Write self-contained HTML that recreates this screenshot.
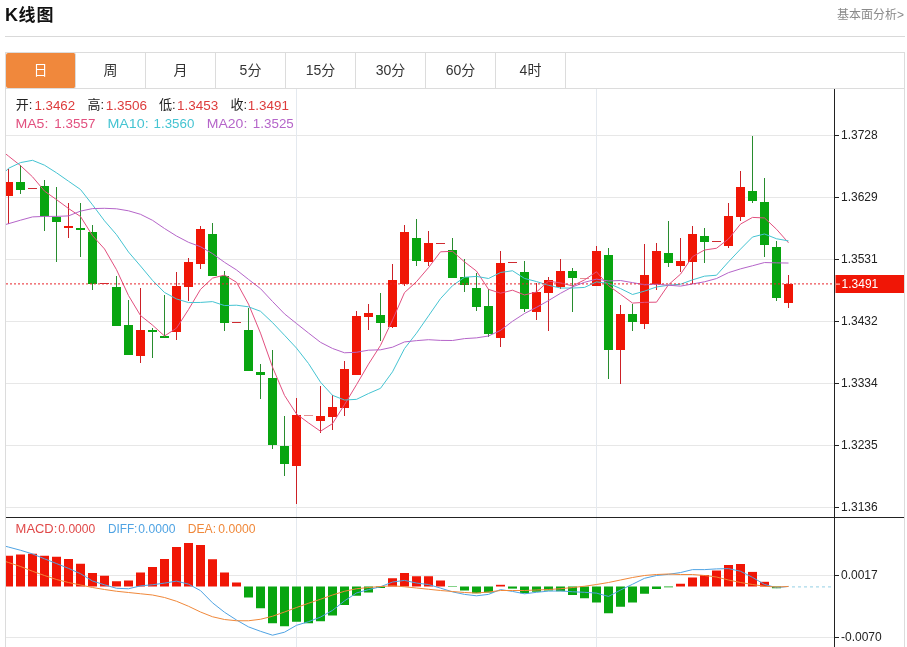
<!DOCTYPE html>
<html lang="zh-CN"><head><meta charset="utf-8"><title>K线图</title>
<style>
html,body{margin:0;padding:0;background:#fff}
body{width:907px;height:647px;position:relative;overflow:hidden;font-family:"Liberation Sans","Noto Sans CJK SC",sans-serif;color:#222}
.title span{font-size:17px;letter-spacing:1px;margin-left:0.5px}
.title{position:absolute;left:5px;top:2px;font-size:18px;font-weight:bold;line-height:26px;color:#111}
.more{position:absolute;right:3px;top:6px;font-size:12px;line-height:18px;color:#8a8a8a}
.hr{position:absolute;left:5px;top:36px;width:900px;height:1px;background:#d9d9d9}
.box{position:absolute;left:5px;top:52px;width:898px;height:600px;border:1px solid #dcdcdc;border-bottom:none}
.tabs{position:absolute;left:6px;top:53px;width:898px;height:35px;border-bottom:1px solid #dcdcdc}
.tab{float:left;width:69px;height:35px;border-right:1px solid #dcdcdc;text-align:center;font-size:14px;line-height:35px;color:#333}
.tab.on{background:#f0883c;color:#fff;border-radius:2px}
</style></head><body>
<div class="title">K<span>线图</span></div>
<div class="more">基本面分析&gt;</div>
<div class="hr"></div>
<div class="box"></div>
<div class="tabs"><div class="tab on">日</div><div class="tab">周</div><div class="tab">月</div><div class="tab">5分</div><div class="tab">15分</div><div class="tab">30分</div><div class="tab">60分</div><div class="tab">4时</div></div>
<svg width="907" height="647" viewBox="0 0 907 647" style="position:absolute;left:0;top:0" font-family="'Liberation Sans', 'Noto Sans CJK SC', sans-serif">
<defs><clipPath id="cm"><rect x="6" y="89" width="829" height="428"/></clipPath><clipPath id="cd"><rect x="6" y="518" width="829" height="129"/></clipPath></defs>
<g stroke="#e7e7e7" stroke-width="1" shape-rendering="crispEdges">
<line x1="6" x2="835" y1="135.5" y2="135.5"/>
<line x1="6" x2="835" y1="197.5" y2="197.5"/>
<line x1="6" x2="835" y1="259.5" y2="259.5"/>
<line x1="6" x2="835" y1="321.5" y2="321.5"/>
<line x1="6" x2="835" y1="383.5" y2="383.5"/>
<line x1="6" x2="835" y1="445.5" y2="445.5"/>
<line x1="6" x2="835" y1="507.5" y2="507.5"/>
<line x1="6" x2="835" y1="575.5" y2="575.5"/>
<line x1="6" x2="835" y1="637.5" y2="637.5"/>
</g>
<g stroke="#e4e9ef" stroke-width="1" shape-rendering="crispEdges">
<line x1="296.5" x2="296.5" y1="89" y2="647"/>
<line x1="596.5" x2="596.5" y1="89" y2="647"/>
</g>
<g clip-path="url(#cm)" shape-rendering="crispEdges">
<rect x="8" y="168.5" width="1" height="55.8" fill="#cc2026"/>
<rect x="4" y="181.5" width="9" height="14.5" fill="#f01606"/>
<rect x="20" y="165" width="1" height="28.8" fill="#288c2e"/>
<rect x="16" y="182" width="9" height="8" fill="#08a510"/>
<rect x="28" y="188" width="9" height="1" fill="#cc2026" opacity="0.95"/>
<rect x="44" y="180" width="1" height="50.75" fill="#288c2e"/>
<rect x="40" y="186" width="9" height="30.4" fill="#08a510"/>
<rect x="56" y="186.75" width="1" height="75" fill="#288c2e"/>
<rect x="52" y="216.75" width="9" height="5" fill="#08a510"/>
<rect x="68" y="203" width="1" height="34.5" fill="#cc2026"/>
<rect x="64" y="225.75" width="9" height="2.25" fill="#f01606"/>
<rect x="80" y="203.25" width="1" height="54" fill="#288c2e"/>
<rect x="76" y="228.25" width="9" height="2" fill="#08a510"/>
<rect x="92" y="225" width="1" height="65" fill="#288c2e"/>
<rect x="88" y="232" width="9" height="52" fill="#08a510"/>
<rect x="100" y="283" width="9" height="1" fill="#cc2026" opacity="0.95"/>
<rect x="116" y="276.25" width="1" height="49.25" fill="#288c2e"/>
<rect x="112" y="286.75" width="9" height="38.75" fill="#08a510"/>
<rect x="128" y="300" width="1" height="55" fill="#288c2e"/>
<rect x="124" y="325" width="9" height="30" fill="#08a510"/>
<rect x="140" y="288" width="1" height="75" fill="#cc2026"/>
<rect x="136" y="330" width="9" height="25.5" fill="#f01606"/>
<rect x="152" y="327.5" width="1" height="30" fill="#288c2e"/>
<rect x="148" y="329.5" width="9" height="2.5" fill="#08a510"/>
<rect x="164" y="294.5" width="1" height="43" fill="#288c2e"/>
<rect x="160" y="336" width="9" height="1.5" fill="#08a510"/>
<rect x="176" y="272" width="1" height="67.5" fill="#cc2026"/>
<rect x="172" y="286.25" width="9" height="45.5" fill="#f01606"/>
<rect x="188" y="257.5" width="1" height="43.5" fill="#cc2026"/>
<rect x="184" y="262" width="9" height="25" fill="#f01606"/>
<rect x="200" y="225.75" width="1" height="42.75" fill="#cc2026"/>
<rect x="196" y="229.25" width="9" height="34.25" fill="#f01606"/>
<rect x="212" y="223" width="1" height="52.5" fill="#288c2e"/>
<rect x="208" y="233.75" width="9" height="41.75" fill="#08a510"/>
<rect x="224" y="271" width="1" height="60" fill="#288c2e"/>
<rect x="220" y="276.25" width="9" height="46.25" fill="#08a510"/>
<rect x="232" y="322" width="9" height="1" fill="#cc2026" opacity="0.95"/>
<rect x="248" y="307.5" width="1" height="63.75" fill="#288c2e"/>
<rect x="244" y="330" width="9" height="41.25" fill="#08a510"/>
<rect x="260" y="364.25" width="1" height="34.5" fill="#288c2e"/>
<rect x="256" y="372" width="9" height="2.5" fill="#08a510"/>
<rect x="272" y="350" width="1" height="99.25" fill="#288c2e"/>
<rect x="268" y="378" width="9" height="67" fill="#08a510"/>
<rect x="284" y="416.25" width="1" height="59.25" fill="#288c2e"/>
<rect x="280" y="445.75" width="9" height="18.5" fill="#08a510"/>
<rect x="296" y="397.5" width="1" height="106.25" fill="#cc2026"/>
<rect x="292" y="415" width="9" height="50.75" fill="#f01606"/>
<rect x="304" y="415" width="9" height="1" fill="#cc2026" opacity="0.5"/>
<rect x="320" y="385.5" width="1" height="47.5" fill="#cc2026"/>
<rect x="316" y="416.25" width="9" height="4.25" fill="#f01606"/>
<rect x="332" y="394.5" width="1" height="35" fill="#cc2026"/>
<rect x="328" y="406.75" width="9" height="10" fill="#f01606"/>
<rect x="344" y="361.25" width="1" height="54.5" fill="#cc2026"/>
<rect x="340" y="369.25" width="9" height="39" fill="#f01606"/>
<rect x="356" y="311.25" width="1" height="63.25" fill="#cc2026"/>
<rect x="352" y="315.5" width="9" height="59" fill="#f01606"/>
<rect x="368" y="303.75" width="1" height="25.75" fill="#cc2026"/>
<rect x="364" y="313" width="9" height="3.5" fill="#f01606"/>
<rect x="380" y="293" width="1" height="48.25" fill="#288c2e"/>
<rect x="376" y="315.25" width="9" height="7.25" fill="#08a510"/>
<rect x="392" y="263.75" width="1" height="64.25" fill="#cc2026"/>
<rect x="388" y="280" width="9" height="47" fill="#f01606"/>
<rect x="404" y="225" width="1" height="61" fill="#cc2026"/>
<rect x="400" y="232" width="9" height="51.75" fill="#f01606"/>
<rect x="416" y="218.75" width="1" height="46.75" fill="#288c2e"/>
<rect x="412" y="237.5" width="9" height="23.25" fill="#08a510"/>
<rect x="428" y="231" width="1" height="35" fill="#cc2026"/>
<rect x="424" y="243" width="9" height="18.5" fill="#f01606"/>
<rect x="436" y="243" width="9" height="1" fill="#cc2026" opacity="0.95"/>
<rect x="452" y="237.5" width="1" height="40" fill="#288c2e"/>
<rect x="448" y="250" width="9" height="27.5" fill="#08a510"/>
<rect x="464" y="258.75" width="1" height="33.25" fill="#288c2e"/>
<rect x="460" y="277" width="9" height="8" fill="#08a510"/>
<rect x="476" y="272.5" width="1" height="38.75" fill="#288c2e"/>
<rect x="472" y="288" width="9" height="18.75" fill="#08a510"/>
<rect x="488" y="289.25" width="1" height="47.75" fill="#288c2e"/>
<rect x="484" y="306" width="9" height="28.25" fill="#08a510"/>
<rect x="500" y="250.75" width="1" height="96.25" fill="#cc2026"/>
<rect x="496" y="262.5" width="9" height="75" fill="#f01606"/>
<rect x="508" y="262" width="9" height="1" fill="#cc2026" opacity="0.95"/>
<rect x="524" y="261.25" width="1" height="50.5" fill="#288c2e"/>
<rect x="520" y="271.75" width="9" height="37" fill="#08a510"/>
<rect x="536" y="283" width="1" height="36.5" fill="#cc2026"/>
<rect x="532" y="292" width="9" height="19.75" fill="#f01606"/>
<rect x="548" y="277" width="1" height="53.5" fill="#cc2026"/>
<rect x="544" y="280" width="9" height="13" fill="#f01606"/>
<rect x="560" y="258.75" width="1" height="30" fill="#cc2026"/>
<rect x="556" y="271.25" width="9" height="15.5" fill="#f01606"/>
<rect x="572" y="267.5" width="1" height="44.25" fill="#288c2e"/>
<rect x="568" y="271.25" width="9" height="6.25" fill="#08a510"/>
<rect x="580" y="278" width="9" height="1" fill="#cc2026" opacity="0.5"/>
<rect x="596" y="246.25" width="1" height="39.5" fill="#cc2026"/>
<rect x="592" y="251.25" width="9" height="34.5" fill="#f01606"/>
<rect x="608" y="247.5" width="1" height="131.3" fill="#288c2e"/>
<rect x="604" y="255" width="9" height="94.7" fill="#08a510"/>
<rect x="620" y="305.2" width="1" height="78.3" fill="#cc2026"/>
<rect x="616" y="314" width="9" height="35.7" fill="#f01606"/>
<rect x="632" y="304.3" width="1" height="26.4" fill="#288c2e"/>
<rect x="628" y="314" width="9" height="7.7" fill="#08a510"/>
<rect x="644" y="243.75" width="1" height="85.55" fill="#cc2026"/>
<rect x="640" y="275" width="9" height="49.3" fill="#f01606"/>
<rect x="656" y="242.5" width="1" height="47" fill="#cc2026"/>
<rect x="652" y="250.5" width="9" height="33.25" fill="#f01606"/>
<rect x="668" y="221.25" width="1" height="45.75" fill="#288c2e"/>
<rect x="664" y="253" width="9" height="9.5" fill="#08a510"/>
<rect x="680" y="238" width="1" height="34" fill="#cc2026"/>
<rect x="676" y="261.25" width="9" height="4.25" fill="#f01606"/>
<rect x="692" y="226.25" width="1" height="57.5" fill="#cc2026"/>
<rect x="688" y="234" width="9" height="27.75" fill="#f01606"/>
<rect x="704" y="227.5" width="1" height="35.75" fill="#288c2e"/>
<rect x="700" y="235.5" width="9" height="6.25" fill="#08a510"/>
<rect x="712" y="241" width="9" height="1" fill="#cc2026" opacity="0.95"/>
<rect x="728" y="203" width="1" height="44.5" fill="#cc2026"/>
<rect x="724" y="216" width="9" height="29.75" fill="#f01606"/>
<rect x="740" y="170.5" width="1" height="50" fill="#cc2026"/>
<rect x="736" y="187" width="9" height="29.5" fill="#f01606"/>
<rect x="752" y="135.75" width="1" height="67.5" fill="#288c2e"/>
<rect x="748" y="191.25" width="9" height="9.25" fill="#08a510"/>
<rect x="764" y="178" width="1" height="78.75" fill="#288c2e"/>
<rect x="760" y="201.75" width="9" height="42.75" fill="#08a510"/>
<rect x="776" y="241.25" width="1" height="60" fill="#288c2e"/>
<rect x="772" y="246.75" width="9" height="51.5" fill="#08a510"/>
<rect x="788" y="274.5" width="1" height="33" fill="#cc2026"/>
<rect x="784" y="283.75" width="9" height="19.25" fill="#f01606"/>
</g>
<g clip-path="url(#cm)" fill="none" stroke-width="1" stroke-linejoin="round">
<polyline stroke="#e2507f" points="-3.5,146.6 8.5,156.1 20.5,165.6 32.5,176.8 44.5,191.1 56.5,199.63 68.5,208.48 80.5,216.53 92.5,235.63 104.5,248.95 116.5,269.7 128.5,295.55 140.5,315.5 152.5,325.1 164.5,336 176.5,328.15 188.5,309.55 200.5,289.4 212.5,278.1 224.5,275.1 236.5,282.25 248.5,304.1 260.5,333.15 272.5,367.05 284.5,395.4 296.5,414 308.5,422.9 320.5,431.25 332.5,423.6 344.5,404.6 356.5,384.7 368.5,364.15 380.5,345.4 392.5,320.05 404.5,292.6 416.5,281.65 428.5,267.65 440.5,251.8 452.5,251.3 464.5,261.9 476.5,271.1 488.5,289.35 500.5,293.2 512.5,290.2 524.5,294.95 536.5,292 548.5,281.15 560.5,282.9 572.5,285.9 584.5,279.9 596.5,271.75 608.5,285.69 620.5,294.24 632.5,303.08 644.5,302.33 656.5,302.18 668.5,284.74 680.5,274.19 692.5,256.65 704.5,250 716.5,248.25 728.5,238.95 740.5,224.1 752.5,217.4 764.5,217.95 776.5,229.25 788.5,242.8"/>
<polyline stroke="#45c4d2" points="-3.5,181 8.5,168.3 20.5,162.6 32.5,160.3 44.5,165.2 56.5,172.8 68.5,181.2 80.5,189.5 92.5,204.8 104.5,220.8 116.5,234.67 128.5,252.02 140.5,266.01 152.5,280.37 164.5,292.48 176.5,298.93 188.5,302.55 200.5,302.45 212.5,301.6 224.5,305.55 236.5,305.2 248.5,306.82 260.5,311.27 272.5,322.57 284.5,335.25 296.5,348.12 308.5,363.5 320.5,382.2 332.5,395.32 344.5,400 356.5,399.35 368.5,393.52 380.5,388.32 392.5,371.82 404.5,348.6 416.5,333.18 428.5,315.9 440.5,298.6 452.5,285.68 464.5,277.25 476.5,276.38 488.5,278.5 500.5,272.5 512.5,270.75 524.5,278.43 536.5,281.55 548.5,285.25 560.5,288.05 572.5,288.05 584.5,287.43 596.5,281.88 608.5,283.42 620.5,288.57 632.5,294.49 644.5,291.11 656.5,286.97 668.5,285.22 680.5,284.22 692.5,279.87 704.5,276.17 716.5,275.22 728.5,261.84 740.5,249.14 752.5,237.03 764.5,233.97 776.5,238.75 788.5,240.88"/>
<polyline stroke="#b565c9" points="-3.5,227.2 8.5,223.7 20.5,220.2 32.5,216.9 44.5,216.4 56.5,216.4 68.5,215.9 80.5,211.1 92.5,208.6 104.5,208.3 116.5,208.8 128.5,210.8 140.5,214.3 152.5,220.3 164.5,228.5 176.5,236 188.5,242.3 200.5,246.7 212.5,253.6 224.5,262.3 236.5,269.93 248.5,279.42 260.5,288.64 272.5,301.47 284.5,313.86 296.5,323.52 308.5,333.02 320.5,342.32 332.5,348.46 344.5,352.77 356.5,352.27 368.5,350.18 380.5,349.8 392.5,347.2 404.5,341.93 416.5,340.65 428.5,339.7 440.5,340.4 452.5,340.5 464.5,338.62 476.5,337.86 488.5,336.01 500.5,330.41 512.5,321.29 524.5,313.51 536.5,307.36 548.5,300.57 560.5,293.32 572.5,286.86 584.5,282.34 596.5,279.12 608.5,280.96 620.5,280.53 632.5,282.62 644.5,284.77 656.5,284.26 668.5,285.23 680.5,286.13 692.5,283.96 704.5,281.79 716.5,278.54 728.5,272.63 740.5,268.86 752.5,265.76 764.5,262.54 776.5,262.86 788.5,263.04"/>
</g>
<line x1="6" x2="835" y1="283.9" y2="283.9" stroke="#e8242a" stroke-width="1" stroke-dasharray="2 2"/>
<g clip-path="url(#cd)" shape-rendering="crispEdges">
<rect x="4" y="555.75" width="9" height="30.75" fill="#f01606" shape-rendering="auto"/>
<rect x="16" y="554.5" width="9" height="32" fill="#f01606" shape-rendering="auto"/>
<rect x="28" y="553.75" width="9" height="32.75" fill="#f01606" shape-rendering="auto"/>
<rect x="40" y="555.75" width="9" height="30.75" fill="#f01606" shape-rendering="auto"/>
<rect x="52" y="556.75" width="9" height="29.75" fill="#f01606" shape-rendering="auto"/>
<rect x="64" y="559" width="9" height="27.5" fill="#f01606" shape-rendering="auto"/>
<rect x="76" y="563.75" width="9" height="22.75" fill="#f01606" shape-rendering="auto"/>
<rect x="88" y="573" width="9" height="13.5" fill="#f01606" shape-rendering="auto"/>
<rect x="100" y="575.75" width="9" height="10.75" fill="#f01606" shape-rendering="auto"/>
<rect x="112" y="581.25" width="9" height="5.25" fill="#f01606" shape-rendering="auto"/>
<rect x="124" y="580.5" width="9" height="6" fill="#f01606" shape-rendering="auto"/>
<rect x="136" y="572.5" width="9" height="14" fill="#f01606" shape-rendering="auto"/>
<rect x="148" y="567" width="9" height="19.5" fill="#f01606" shape-rendering="auto"/>
<rect x="160" y="559" width="9" height="27.5" fill="#f01606" shape-rendering="auto"/>
<rect x="172" y="547" width="9" height="39.5" fill="#f01606" shape-rendering="auto"/>
<rect x="184" y="543" width="9" height="43.5" fill="#f01606" shape-rendering="auto"/>
<rect x="196" y="545" width="9" height="41.5" fill="#f01606" shape-rendering="auto"/>
<rect x="208" y="559.25" width="9" height="27.25" fill="#f01606" shape-rendering="auto"/>
<rect x="220" y="572.5" width="9" height="14" fill="#f01606" shape-rendering="auto"/>
<rect x="232" y="582.5" width="9" height="4" fill="#f01606" shape-rendering="auto"/>
<rect x="244" y="586.5" width="9" height="11" fill="#08a510" shape-rendering="auto"/>
<rect x="256" y="586.5" width="9" height="21.75" fill="#08a510" shape-rendering="auto"/>
<rect x="268" y="586.5" width="9" height="36.75" fill="#08a510" shape-rendering="auto"/>
<rect x="280" y="586.5" width="9" height="39.75" fill="#08a510" shape-rendering="auto"/>
<rect x="292" y="586.5" width="9" height="35.25" fill="#08a510" shape-rendering="auto"/>
<rect x="304" y="586.5" width="9" height="36.75" fill="#08a510" shape-rendering="auto"/>
<rect x="316" y="586.5" width="9" height="34.75" fill="#08a510" shape-rendering="auto"/>
<rect x="328" y="586.5" width="9" height="29" fill="#08a510" shape-rendering="auto"/>
<rect x="340" y="586.5" width="9" height="18.5" fill="#08a510" shape-rendering="auto"/>
<rect x="352" y="586.5" width="9" height="9.25" fill="#08a510" shape-rendering="auto"/>
<rect x="364" y="586.5" width="9" height="6" fill="#08a510" shape-rendering="auto"/>
<rect x="376" y="586.5" width="9" height="1.5" fill="#08a510" shape-rendering="auto"/>
<rect x="388" y="578.25" width="9" height="8.25" fill="#f01606" shape-rendering="auto"/>
<rect x="400" y="573" width="9" height="13.5" fill="#f01606" shape-rendering="auto"/>
<rect x="412" y="576.25" width="9" height="10.25" fill="#f01606" shape-rendering="auto"/>
<rect x="424" y="576.25" width="9" height="10.25" fill="#f01606" shape-rendering="auto"/>
<rect x="436" y="580.5" width="9" height="6" fill="#f01606" shape-rendering="auto"/>
<rect x="448" y="586.5" width="9" height="0.5" fill="#08a510" shape-rendering="auto"/>
<rect x="460" y="586.5" width="9" height="4" fill="#08a510" shape-rendering="auto"/>
<rect x="472" y="586.5" width="9" height="6.75" fill="#08a510" shape-rendering="auto"/>
<rect x="484" y="586.5" width="9" height="6" fill="#08a510" shape-rendering="auto"/>
<rect x="496" y="584.8" width="9" height="1.7" fill="#f01606" shape-rendering="auto"/>
<rect x="508" y="586.5" width="9" height="2.1" fill="#08a510" shape-rendering="auto"/>
<rect x="520" y="586.5" width="9" height="6.75" fill="#08a510" shape-rendering="auto"/>
<rect x="532" y="586.5" width="9" height="5.25" fill="#08a510" shape-rendering="auto"/>
<rect x="544" y="586.5" width="9" height="4" fill="#08a510" shape-rendering="auto"/>
<rect x="556" y="586.5" width="9" height="4.75" fill="#08a510" shape-rendering="auto"/>
<rect x="568" y="586.5" width="9" height="8.5" fill="#08a510" shape-rendering="auto"/>
<rect x="580" y="586.5" width="9" height="11.75" fill="#08a510" shape-rendering="auto"/>
<rect x="592" y="586.5" width="9" height="16" fill="#08a510" shape-rendering="auto"/>
<rect x="604" y="586.5" width="9" height="26.75" fill="#08a510" shape-rendering="auto"/>
<rect x="616" y="586.5" width="9" height="20.25" fill="#08a510" shape-rendering="auto"/>
<rect x="628" y="586.5" width="9" height="16" fill="#08a510" shape-rendering="auto"/>
<rect x="640" y="586.5" width="9" height="7.25" fill="#08a510" shape-rendering="auto"/>
<rect x="652" y="586.5" width="9" height="2.5" fill="#08a510" shape-rendering="auto"/>
<rect x="664" y="586.5" width="9" height="0.8" fill="#08a510" shape-rendering="auto"/>
<rect x="676" y="583.75" width="9" height="2.75" fill="#f01606" shape-rendering="auto"/>
<rect x="688" y="577.5" width="9" height="9" fill="#f01606" shape-rendering="auto"/>
<rect x="700" y="575" width="9" height="11.5" fill="#f01606" shape-rendering="auto"/>
<rect x="712" y="570.5" width="9" height="16" fill="#f01606" shape-rendering="auto"/>
<rect x="724" y="565" width="9" height="21.5" fill="#f01606" shape-rendering="auto"/>
<rect x="736" y="564" width="9" height="22.5" fill="#f01606" shape-rendering="auto"/>
<rect x="748" y="571.9" width="9" height="14.6" fill="#f01606" shape-rendering="auto"/>
<rect x="760" y="581.8" width="9" height="4.7" fill="#f01606" shape-rendering="auto"/>
<rect x="772" y="586.5" width="9" height="1.75" fill="#08a510" shape-rendering="auto"/>
</g>
<g clip-path="url(#cd)" fill="none" stroke-width="1" stroke-linejoin="round">
<polyline stroke="#4fa3e3" points="-3.5,543.88 8.5,547.06 20.5,550.25 32.5,553.94 44.5,558.81 56.5,563.56 68.5,568.38 80.5,573.69 92.5,581 104.5,584.81 116.5,588.31 128.5,588.75 140.5,585.88 152.5,584.75 164.5,583.12 176.5,581.12 188.5,584.12 200.5,590.62 212.5,602.81 224.5,612.25 236.5,620 248.5,626.88 260.5,631.31 272.5,635.19 284.5,632.19 296.5,625.31 308.5,621.69 320.5,617.06 332.5,610.38 344.5,600.88 356.5,592.94 368.5,589.62 380.5,586.75 392.5,582.06 404.5,580.38 416.5,583.06 428.5,584.56 440.5,588.12 452.5,591.88 464.5,594.38 476.5,595.81 488.5,594.38 500.5,589.58 512.5,591.4 524.5,593.81 536.5,592.31 548.5,591.12 560.5,590.94 572.5,591.75 584.5,592.31 596.5,593.12 608.5,596.44 620.5,590.06 632.5,584.25 644.5,578.31 656.5,575.5 668.5,574.33 680.5,572.56 692.5,569.62 704.5,569.62 716.5,568.88 728.5,568.62 740.5,571.25 752.5,577.35 764.5,584.45 776.5,587.69 788.5,586.38"/>
<polyline stroke="#f0883a" points="-3.5,558.5 8.5,562.5 20.5,566.5 32.5,571.25 44.5,575.5 56.5,579.5 68.5,582.5 80.5,585 92.5,587.5 104.5,589.5 116.5,591.25 128.5,592.5 140.5,593.75 152.5,595 164.5,597.5 176.5,601.25 188.5,606.25 200.5,612 212.5,616.75 224.5,619.5 236.5,620.75 248.5,620.75 260.5,619.25 272.5,616.25 284.5,612 296.5,607.5 308.5,603.25 320.5,599.25 332.5,595 344.5,591.25 356.5,588.75 368.5,587.5 380.5,586.5 392.5,585.75 404.5,586.75 416.5,588 428.5,589.25 440.5,590.5 452.5,591.5 464.5,592.5 476.5,593 488.5,592 500.5,590.5 512.5,590.5 524.5,590.5 536.5,590 548.5,589.5 560.5,588.75 572.5,587.5 584.5,586.25 596.5,584.5 608.5,582.5 620.5,580 632.5,577.5 644.5,575.5 656.5,574.5 668.5,574 680.5,574.5 692.5,574.5 704.5,575.5 716.5,577 728.5,580 740.5,582.5 752.5,584.5 764.5,586.25 776.5,587 788.5,586.5"/>
</g>
<line x1="792" x2="835" y1="586.8" y2="586.8" stroke="#a9d9ea" stroke-width="1.3" stroke-dasharray="3 3"/>
<g fill="#222" shape-rendering="crispEdges">
<rect x="834" y="89" width="1" height="558"/>
<rect x="6" y="517" width="898" height="1"/>
<rect x="835" y="135" width="4" height="1"/>
<rect x="835" y="197" width="4" height="1"/>
<rect x="835" y="259" width="4" height="1"/>
<rect x="835" y="321" width="4" height="1"/>
<rect x="835" y="383" width="4" height="1"/>
<rect x="835" y="445" width="4" height="1"/>
<rect x="835" y="507" width="4" height="1"/>
<rect x="835" y="575" width="4" height="1"/>
<rect x="835" y="637" width="4" height="1"/>
</g>
<rect x="835.5" y="275" width="68.5" height="18" fill="#f01606"/>
<rect x="836" y="283.6" width="4" height="1" fill="#fff" opacity=".9"/>
<g font-size="12" fill="#222">
<text x="841" y="139.1">1.3728</text>
<text x="841" y="201.1">1.3629</text>
<text x="841" y="263.1">1.3531</text>
<text x="841" y="325.1">1.3432</text>
<text x="841" y="387.1">1.3334</text>
<text x="841" y="449.1">1.3235</text>
<text x="841" y="511.1">1.3136</text>
<text x="841" y="579.1">0.0017</text>
<text x="841" y="641.1">-0.0070</text>
<text x="841.6" y="288.3" fill="#fff">1.3491</text>
</g>
<g font-size="13">
<text x="15.7" y="109.3" fill="#222">开:</text>
<text x="34.48" y="109.8" fill="#dd3c3c" textLength="40.71" lengthAdjust="spacingAndGlyphs">1.3462</text>
<text x="87.6" y="109.3" fill="#222">高:</text>
<text x="105.66" y="109.8" fill="#dd3c3c" textLength="41.44" lengthAdjust="spacingAndGlyphs">1.3506</text>
<text x="159.1" y="109.3" fill="#222">低:</text>
<text x="177.06" y="109.8" fill="#dd3c3c" textLength="41.23" lengthAdjust="spacingAndGlyphs">1.3453</text>
<text x="230.5" y="109.3" fill="#222">收:</text>
<text x="247.87" y="109.8" fill="#dd3c3c" textLength="41.02" lengthAdjust="spacingAndGlyphs">1.3491</text>
<text x="15.41" y="127.8" fill="#e2507f" textLength="32.96" lengthAdjust="spacingAndGlyphs">MA5:</text>
<text x="54.37" y="127.8" fill="#e2507f" textLength="41.02" lengthAdjust="spacingAndGlyphs">1.3557</text>
<text x="107.4" y="127.8" fill="#45c4d2" textLength="41.23" lengthAdjust="spacingAndGlyphs">MA10:</text>
<text x="153.57" y="127.8" fill="#45c4d2" textLength="40.79" lengthAdjust="spacingAndGlyphs">1.3560</text>
<text x="206.82" y="127.8" fill="#b565c9" textLength="40.5" lengthAdjust="spacingAndGlyphs">MA20:</text>
<text x="252.87" y="127.8" fill="#b565c9" textLength="40.92" lengthAdjust="spacingAndGlyphs">1.3525</text>
<text x="15.62" y="532.9" fill="#e04848" textLength="41.7" lengthAdjust="spacingAndGlyphs" font-size="12">MACD:</text>
<text x="58.3" y="532.9" fill="#e04848" textLength="37.0" lengthAdjust="spacingAndGlyphs" font-size="12">0.0000</text>
<text x="107.92" y="532.9" fill="#4fa3e3" textLength="29.46" lengthAdjust="spacingAndGlyphs" font-size="12">DIFF:</text>
<text x="138.3" y="532.9" fill="#4fa3e3" textLength="37.1" lengthAdjust="spacingAndGlyphs" font-size="12">0.0000</text>
<text x="187.74" y="532.9" fill="#f0883a" textLength="28.29" lengthAdjust="spacingAndGlyphs" font-size="12">DEA:</text>
<text x="218.25" y="532.9" fill="#f0883a" textLength="37.2" lengthAdjust="spacingAndGlyphs" font-size="12">0.0000</text>
</g>
</svg>
</body></html>
